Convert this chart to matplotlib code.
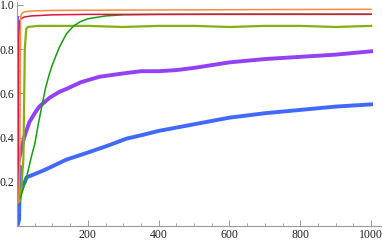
import matplotlib
matplotlib.use("Agg")
import matplotlib.pyplot as plt
from matplotlib.ticker import MultipleLocator

# values
t_orange = [0, 5, 8, 10, 12, 15, 20, 30, 50, 100, 200, 400, 600, 800, 1000]
y_orange = [0.10, 0.11, 0.30, 0.93, 0.955, 0.963, 0.968, 0.971, 0.973, 0.975, 0.976, 0.977, 0.978, 0.979, 0.980]

t_red = [0, 3, 5, 7, 10, 20, 40, 100, 200, 400, 600, 800, 1000]
y_red = [0.10, 0.15, 0.85, 0.925, 0.935, 0.945, 0.950, 0.955, 0.957, 0.957, 0.958, 0.958, 0.958]

t_olive = [0, 10, 18, 22, 26, 30, 60, 100, 200, 300, 400, 500, 600, 700, 800, 900, 1000]
y_olive = [0.10, 0.12, 0.30, 0.80, 0.89, 0.90, 0.905, 0.905, 0.905, 0.90, 0.905, 0.905, 0.90, 0.905, 0.905, 0.90, 0.905]

t_green = [0, 10, 20, 30, 40, 50, 60, 70, 80, 90, 100, 120, 140, 160, 180, 200, 250, 300, 350, 400, 600, 800, 1000]
y_green = [0.10, 0.13, 0.18, 0.24, 0.31, 0.37, 0.46, 0.54, 0.62, 0.68, 0.73, 0.81, 0.87, 0.905, 0.925, 0.937, 0.950, 0.955, 0.956, 0.957, 0.957, 0.957, 0.957]

t_purple = [0, 1, 3, 8, 13, 20, 35, 50, 63, 92, 120, 140, 180, 233, 300, 350, 400, 450, 500, 600, 700, 800, 900, 1000]
y_purple = [0.94, 0.25, 0.28, 0.32, 0.35, 0.40, 0.47, 0.51, 0.54, 0.58, 0.607, 0.62, 0.65, 0.675, 0.69, 0.70, 0.70, 0.705, 0.715, 0.74, 0.755, 0.765, 0.775, 0.79]

t_blue = [0, 3, 6, 8, 10, 13, 17, 21, 27, 50, 73, 100, 139, 196, 261, 309, 350, 400, 450, 500, 550, 600, 700, 800, 900, 1000]
y_blue = [0.0, 0.01, 0.03, 0.27, 0.20, 0.17, 0.19, 0.195, 0.22, 0.235, 0.25, 0.27, 0.30, 0.33, 0.366, 0.395, 0.41, 0.43, 0.445, 0.46, 0.475, 0.49, 0.51, 0.525, 0.54, 0.55]

plt.rcParams['font.family'] = ['Liberation Serif', 'DejaVu Serif']

fig = plt.figure(figsize=(3.82, 2.41), dpi=100)
ax = fig.add_axes([17 / 382, 15 / 241, 364 / 382, 224 / 241])

# noisy series drawn as a band-like thicker line
ax.plot(t_blue, y_blue, color='#1f4fff', lw=2.8, alpha=0.85)
ax.plot(t_purple, y_purple, color='#7f1ff5', lw=2.8, alpha=0.85)
ax.plot(t_olive, y_olive, color='#86b012', lw=1.6)
ax.plot(t_green, y_green, color='#129e12', lw=1.1)
ax.plot(t_red, y_red, color='#d8163f', lw=1.1)
ax.plot(t_orange, y_orange, color='#ff8a3d', lw=1.1)

ax.set_xlim(0, 1028)
ax.set_ylim(0, 1.013)

for s in ['top', 'right']:
    ax.spines[s].set_visible(False)
for s in ['left', 'bottom']:
    ax.spines[s].set_color('#999999')
    ax.spines[s].set_linewidth(0.8)

ax.xaxis.set_minor_locator(MultipleLocator(50))
ax.yaxis.set_minor_locator(MultipleLocator(0.05))
ax.set_xticks([200, 400, 600, 800, 1000])
ax.set_yticks([0.2, 0.4, 0.6, 0.8, 1.0])
ax.set_yticklabels(['0.2', '0.4', '0.6', '0.8', '1.0'])

ax.tick_params(which='both', direction='in', color='#999999', labelsize=8.5, labelcolor='#222222', pad=2)
ax.tick_params(which='major', length=4, width=0.7)
ax.tick_params(which='minor', length=2, width=0.6)

fig.savefig('out.png', dpi=100)
